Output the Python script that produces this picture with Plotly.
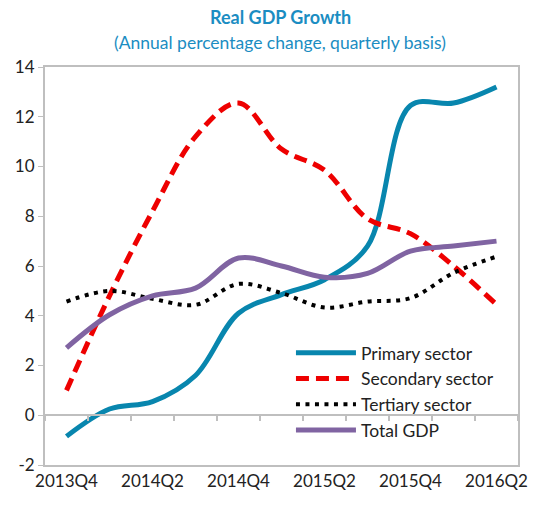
import plotly.graph_objects as go

quarters = ["2013Q4", "2014Q1", "2014Q2", "2014Q3", "2014Q4", "2015Q1",
            "2015Q2", "2015Q3", "2015Q4", "2016Q1", "2016Q2"]
tick_labels = ["2013Q4", "2014Q2", "2014Q4", "2015Q2", "2015Q4", "2016Q2"]
y_ticks = [-2, 0, 2, 4, 6, 8, 10, 12, 14]
y_tick_text = ["-2", "0", "2", "4", "6", "8", "10", "12", "14"]

primary = [-0.85, 0.25, 0.55, 1.6, 4.1, 4.85, 5.45, 6.8, 12.45, 12.55, 13.2]
secondary = [1.0, 4.8, 8.2, 11.2, 12.55, 10.7, 9.85, 7.9, 7.3, 6.0, 4.45]
tertiary = [4.57, 5.0, 4.68, 4.44, 5.28, 4.91, 4.33, 4.57, 4.71, 5.72, 6.38]
total = [2.71, 4.04, 4.8, 5.11, 6.32, 6.0, 5.55, 5.7, 6.6, 6.8, 7.0]

FONT = "Lato"
TITLE_C = "#1B8DC2"

fig = go.Figure()
fig.add_trace(go.Scatter(x=quarters, y=primary, name="Primary sector", mode="lines",
                         line=dict(color="#0886AE", width=5, shape="spline", smoothing=1)))
fig.add_trace(go.Scatter(x=quarters, y=secondary, name="Secondary sector", mode="lines",
                         line=dict(color="#EE0000", width=5, shape="spline", smoothing=1,
                                   dash="13px,7px")))
fig.add_trace(go.Scatter(x=quarters, y=tertiary, name="Tertiary sector", mode="lines",
                         line=dict(color="#000000", width=4, shape="spline", smoothing=1,
                                   dash="4px,5.5px")))
fig.add_trace(go.Scatter(x=quarters, y=total, name="Total GDP", mode="lines",
                         line=dict(color="#8064A2", width=5, shape="spline", smoothing=1)))

grey = "#BFBFBF"
fig.update_layout(
    width=537, height=506,
    margin=dict(l=45, r=9, t=67, b=41),
    paper_bgcolor="white", plot_bgcolor="white",
    font=dict(family=FONT, size=17, color="#222222"),
    showlegend=True,
    legend=dict(x=0.52, y=0.327, xanchor="left", yanchor="top",
                bgcolor="rgba(255,255,255,0)", font=dict(size=17.5, color="#222222"),
                tracegroupgap=0, itemwidth=60),
    xaxis=dict(type="category", categoryorder="array", categoryarray=quarters,
               range=[-0.5, len(quarters) - 0.5],
               tickmode="array", tickvals=tick_labels, ticktext=tick_labels,
               ticks="", showline=True, linecolor=grey, linewidth=2, mirror=True,
               showgrid=False, zeroline=False, tickfont=dict(size=17)),
    xaxis2=dict(type="category", categoryorder="array", categoryarray=quarters,
                matches="x", overlaying="x", anchor="free", position=0.125,
                side="bottom", tickson="boundaries", ticks="outside", ticklen=5,
                tickcolor=grey, tickwidth=1.5, showticklabels=False,
                showline=True, linecolor=grey, linewidth=1.5, showgrid=False,
                zeroline=False),
    yaxis=dict(range=[-2, 14], tickmode="array", tickvals=y_ticks, ticktext=y_tick_text,
               ticks="outside", ticklen=5,
               tickcolor=grey, showline=True, linecolor=grey, linewidth=2, mirror=True,
               showgrid=False, zeroline=False, tickfont=dict(size=17)),
    annotations=[
        dict(text="<b>Real GDP Growth</b>", xref="paper", yref="paper",
             x=0.497, y=1.0, yshift=50, xanchor="center", yanchor="middle",
             showarrow=False, font=dict(size=18, color=TITLE_C, family=FONT)),
        dict(text="(Annual percentage change, quarterly basis)", xref="paper", yref="paper",
             x=0.497, y=1.0, yshift=25, xanchor="center", yanchor="middle",
             showarrow=False, font=dict(size=17.5, color=TITLE_C, family=FONT)),
    ],
)
# invisible helper trace so the zero-line axis with boundary ticks is drawn
fig.add_trace(go.Scatter(x=quarters, y=[None] * len(quarters), xaxis="x2",
                         showlegend=False, hoverinfo="skip"))

fig.write_html("out.html", config={"displayModeBar": False},
               post_script="document.body.style.margin='0';document.body.style.overflow='hidden';")
